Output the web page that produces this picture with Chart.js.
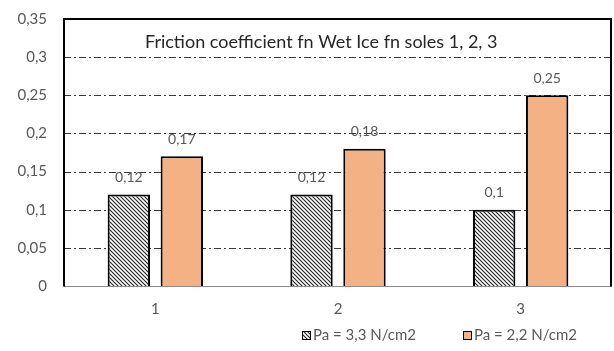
<!DOCTYPE html>
<html>
<head>
<meta charset="utf-8">
<script src="https://cdn.jsdelivr.net/npm/chart.js@4.4.1/dist/chart.umd.min.js"></script>
<style>
  html, body { margin: 0; padding: 0; background: #ffffff; }
  #wrap { width: 614px; height: 351px; position: relative; }
</style>
</head>
<body>
<div id="wrap"><canvas id="c" width="614" height="351"></canvas></div>
<script>
// Soles compared
const categories = ['1', '2', '3'];
// Friction coefficient for each sole, per contact pressure
const seriesHigh = [0.12, 0.12, 0.10];   // Pa = 3,3 N/cm2
const seriesLow = [0.17, 0.18, 0.25];    // Pa = 2,2 N/cm2
const seriesNames = ['Pa = 3,3 N/cm2', 'Pa = 2,2 N/cm2'];
const yTicks = [0, 0.05, 0.1, 0.15, 0.2, 0.25, 0.3, 0.35];
const chartTitle = 'Friction coefficient fn Wet Ice fn soles 1, 2, 3';

const FONT = 'Lato, "Open Sans", sans-serif';
const TEXT = '#595959';
const ORANGE = '#F4B183';

const fmt = v => String(Math.round(v * 100) / 100).replace('.', ',');

// diagonal hatch fill ("\" direction)
function hatch() {
  const t = document.createElement('canvas');
  t.width = 4; t.height = 4;
  const g = t.getContext('2d');
  g.fillStyle = '#ffffff';
  g.fillRect(0, 0, 4, 4);
  g.strokeStyle = '#2a2a2a';
  g.lineWidth = 1.2;
  g.beginPath();
  g.moveTo(-1, -1); g.lineTo(5, 5);
  g.moveTo(-1, 3); g.lineTo(1, 5);
  g.moveTo(3, -1); g.lineTo(5, 1);
  g.stroke();
  return g.createPattern(t, 'repeat');
}
const hatchFill = hatch();

// dash-dot gridlines behind bars, frame on top
const framePlugin = {
  id: 'frame',
  beforeDatasetsDraw(chart) {
    const { ctx, chartArea: a, scales: { y } } = chart;
    ctx.save();
    ctx.strokeStyle = '#3a3a3a';
    ctx.lineWidth = 1;
    ctx.setLineDash([7, 3, 2, 3]);
    yTicks.forEach(v => {
      if (v <= 0 || v >= 0.35) return;
      const py = Math.round(y.getPixelForValue(v)) + 0.5;
      ctx.beginPath();
      ctx.moveTo(a.left, py);
      ctx.lineTo(a.right, py);
      ctx.stroke();
    });
    ctx.restore();
  },
  afterDatasetsDraw(chart) {
    const { ctx, chartArea: a, scales: { y } } = chart;
    ctx.save();
    // bottom axis line
    ctx.strokeStyle = '#8c8c8c';
    ctx.lineWidth = 1;
    const py0 = Math.round(y.getPixelForValue(0)) + 0.5;
    ctx.beginPath();
    ctx.moveTo(a.left, py0); ctx.lineTo(a.right, py0);
    ctx.stroke();
    // left / top / right frame
    ctx.strokeStyle = '#000000';
    ctx.lineWidth = 2;
    const top = Math.round(y.getPixelForValue(0.35));
    ctx.beginPath();
    ctx.moveTo(a.left, py0);
    ctx.lineTo(a.left, top);
    ctx.lineTo(a.right - 1, top);
    ctx.lineTo(a.right - 1, py0);
    ctx.stroke();

    // value labels above the bars
    ctx.fillStyle = TEXT;
    ctx.font = '14px ' + FONT;
    ctx.textAlign = 'center';
    ctx.textBaseline = 'middle';
    chart.data.datasets.forEach((ds, i) => {
      chart.getDatasetMeta(i).data.forEach((bar, j) => {
        ctx.fillText(fmt(ds.data[j]), bar.x, bar.y - 17);
      });
    });

    // title inside the plot
    ctx.fillStyle = '#262626';
    ctx.font = '18px ' + FONT;
    ctx.textAlign = 'left';
    ctx.textBaseline = 'middle';
    ctx.fillText(chartTitle, 145, 42);

    // legend
    ctx.font = '15px ' + FONT;
    ctx.textBaseline = 'middle';
    let lx = 302;
    const ly = 335;
    chart.data.datasets.forEach((ds, i) => {
      ctx.fillStyle = ds.backgroundColor;
      ctx.fillRect(lx, ly - 4, 9, 9);
      ctx.strokeStyle = '#000';
      ctx.lineWidth = 1;
      ctx.strokeRect(lx + 0.5, ly - 3.5, 8, 8);
      ctx.fillStyle = TEXT;
      ctx.fillText(ds.label, lx + 11, ly);
      lx += 11 + ctx.measureText(ds.label).width + 47;
    });
    ctx.restore();
  }
};

new Chart(document.getElementById('c'), {
  type: 'bar',
  data: {
    labels: categories,
    datasets: [
      { label: seriesNames[0], data: seriesHigh, backgroundColor: hatchFill,
        borderColor: '#000', borderWidth: 2, borderSkipped: 'bottom' },
      { label: seriesNames[1], data: seriesLow, backgroundColor: ORANGE,
        borderColor: '#000', borderWidth: 2, borderSkipped: 'bottom' }
    ]
  },
  options: {
    responsive: false,
    animation: false,
    layout: { padding: { top: 19, right: 2, left: 0, bottom: 0 } },
    datasets: { bar: { categoryPercentage: 0.58, barPercentage: 0.8 } },
    plugins: { legend: { display: false }, tooltip: { enabled: false }, title: { display: false } },
    scales: {
      x: {
        grid: { display: false, drawTicks: false },
        border: { display: false },
        ticks: { color: TEXT, font: { family: FONT, size: 15 }, padding: 14 },
        afterFit(s) { s.height = 65; s.paddingLeft = 0; s.paddingRight = 0; }
      },
      y: {
        min: 0, max: 0.35,
        afterBuildTicks(s) { s.ticks = yTicks.map(v => ({ value: v })); },
        grid: { display: false, drawTicks: false },
        border: { display: false },
        ticks: { color: TEXT, font: { family: FONT, size: 15 }, padding: 17,
                 callback: v => fmt(v) },
        afterFit(s) { s.width = 64; s.paddingTop = 0; s.paddingBottom = 0; }
      }
    }
  },
  plugins: [framePlugin]
});
</script>
</body>
</html>
